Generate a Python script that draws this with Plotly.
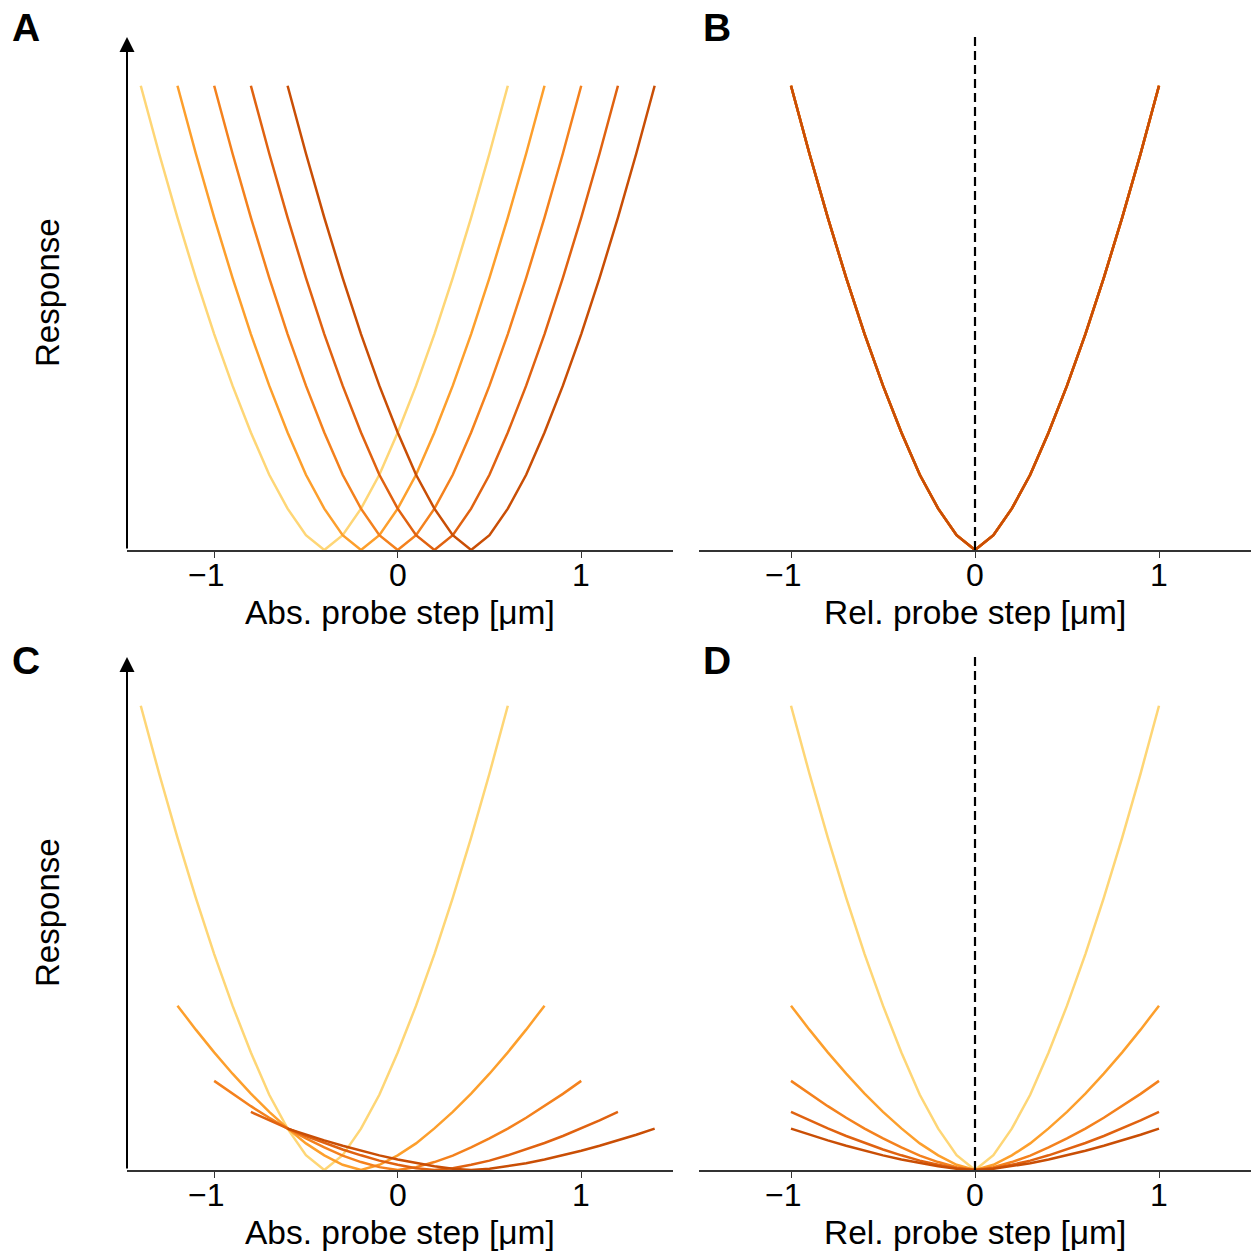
import plotly.graph_objects as go

# Probe positions of the five cells (µm) and the sampled step grid
centers = [-0.4, -0.2, 0.0, 0.2, 0.4]
rel_steps = [-1.0, -0.9, -0.8, -0.7, -0.6, -0.5, -0.4, -0.3, -0.2, -0.1, 0.0,
             0.1, 0.2, 0.3, 0.4, 0.5, 0.6, 0.7, 0.8, 0.9, 1.0]
# Normalised response along the step grid
profile = [1.000, 0.854, 0.716, 0.586, 0.465, 0.354, 0.253, 0.162, 0.089, 0.032, 0.000,
           0.032, 0.089, 0.162, 0.253, 0.354, 0.465, 0.586, 0.716, 0.854, 1.000]
# Response gains for the lower row
gains = [1.000, 0.354, 0.192, 0.125, 0.089]

colors = ["#fed676", "#fd9f2c", "#f4811d", "#e06210", "#c94e05"]
tick_vals = [-1, 0, 1]
tick_text = ["\u22121", "0", "1"]

FONT = "Liberation Sans, Arial, sans-serif"
YMAX = 1.105

fig = go.Figure()

panels = [
    # (xaxis id, yaxis id, absolute?, gained?)
    ("x", "y", True, False),
    ("x2", "y2", False, False),
    ("x3", "y3", True, True),
    ("x4", "y4", False, True),
]

for xa, ya, absolute, gained in panels:
    for c, g, col in zip(centers, gains, colors):
        xs = [c + r if absolute else r for r in rel_steps]
        ys = [(g if gained else 1.0) * p for p in profile]
        fig.add_trace(go.Scatter(x=xs, y=ys, mode="lines", xaxis=xa, yaxis=ya,
                                 line=dict(color=col, width=2.5), showlegend=False,
                                 hoverinfo="skip"))
    if not absolute:
        fig.add_trace(go.Scatter(x=[0, 0], y=[0, YMAX], mode="lines", xaxis=xa, yaxis=ya,
                                 line=dict(color="black", width=2.2, dash="9px,5px"),
                                 showlegend=False, hoverinfo="skip"))

W = H = 1252.0
left_dom = [127 / W, 673 / W]
right_dom = [699 / W, 1251 / W]
top_dom = [1 - 550 / H, 1 - 37 / H]
bot_dom = [1 - 1170 / H, 1 - 657 / H]

def xaxis(dom, rng, anchor):
    return dict(domain=dom, range=rng, anchor=anchor, showgrid=False, zeroline=False,
                showline=True, linecolor="#333333", linewidth=1.6,
                ticks="outside", ticklen=6, tickwidth=1.4, tickcolor="#333333",
                tickvals=tick_vals, showticklabels=False, fixedrange=True)

def yaxis(dom, anchor):
    return dict(domain=dom, range=[0, YMAX], anchor=anchor, showgrid=False,
                zeroline=False, showline=False, showticklabels=False, ticks="",
                fixedrange=True)

fig.update_layout(
    width=1252, height=1252,
    margin=dict(l=0, r=0, t=0, b=0),
    paper_bgcolor="white", plot_bgcolor="white",
    xaxis=xaxis(left_dom, [-1.475, 1.5], "y"),
    yaxis=yaxis(top_dom, "x"),
    xaxis2=xaxis(right_dom, [-1.5, 1.5], "y2"),
    yaxis2=yaxis(top_dom, "x2"),
    xaxis3=xaxis(left_dom, [-1.475, 1.5], "y3"),
    yaxis3=yaxis(bot_dom, "x3"),
    xaxis4=xaxis(right_dom, [-1.5, 1.5], "y4"),
    yaxis4=yaxis(bot_dom, "x4"),
)

annotations = []
# Left spines drawn as arrows
for xa, ya in [("x", "y"), ("x3", "y3")]:
    annotations.append(dict(x=-1.475, y=YMAX, ax=-1.475, ay=0, xref=xa, yref=ya,
                            axref=xa, ayref=ya, showarrow=True, arrowhead=2,
                            arrowsize=1.5, arrowwidth=2, arrowcolor="black", text=""))

# Tick labels placed just under each bottom axis
for xa, ty in [("x", 575), ("x2", 575), ("x3", 1195), ("x4", 1195)]:
    for v, t in zip(tick_vals, tick_text):
        annotations.append(dict(x=v, y=1 - ty / H, xref=xa, yref="paper", text=t,
                                showarrow=False, xanchor="center", yanchor="middle",
                                xshift=-8 if v < 0 else 0,
                                font=dict(family=FONT, size=32, color="black")))

# Axis titles
for xc, yc, label in [((127 + 673) / 2, 612, "Abs. probe step [\u03bcm]"),
                      ((699 + 1251) / 2, 612, "Rel. probe step [\u03bcm]"),
                      ((127 + 673) / 2, 1232, "Abs. probe step [\u03bcm]"),
                      ((699 + 1251) / 2, 1232, "Rel. probe step [\u03bcm]")]:
    annotations.append(dict(x=xc / W, y=1 - yc / H, xref="paper", yref="paper",
                            text=label, showarrow=False, xanchor="center", yanchor="middle",
                            font=dict(family=FONT, size=33.5, color="black")))
for yc in [293, 913]:
    annotations.append(dict(x=47 / W, y=1 - yc / H, xref="paper", yref="paper",
                            text="Response", showarrow=False, textangle=-90,
                            xanchor="center", yanchor="middle",
                            font=dict(family=FONT, size=33, color="black")))

# Panel letters
for xl, yl, letter in [(10, 28, "A"), (701, 28, "B"), (10, 660, "C"), (701, 660, "D")]:
    annotations.append(dict(x=xl / W, y=1 - yl / H, xref="paper", yref="paper",
                            text="<b>%s</b>" % letter, showarrow=False,
                            xanchor="left", yanchor="middle",
                            font=dict(family=FONT, size=39, color="black")))

fig.update_layout(annotations=annotations)
fig.write_html("out.html")
